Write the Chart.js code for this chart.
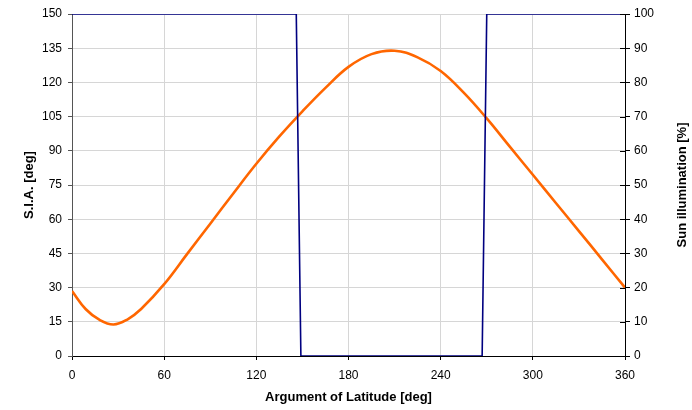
<!DOCTYPE html>
<html>
<head>
<meta charset="utf-8">
<script src="https://cdn.jsdelivr.net/npm/chart.js@4/dist/chart.umd.min.js"></script>
<style>
    html, body { margin: 0; padding: 0; background: #fff; }
    #wrap { width: 692px; height: 410px; }
</style>
</head>
<body>
<div id="wrap"><canvas id="myChart" width="692" height="410"></canvas></div>
<script>
// Sun illumination [%] vs argument of latitude
var sunLat = [0, 146, 149, 267, 270, 360];
var sunVal = [100, 100, 0, 0, 100, 100];

// Sun incidence angle [deg] vs argument of latitude
var siaLat = [0, 9, 18, 27, 36, 45, 60, 75, 90, 105, 120, 135, 150, 165, 180, 195, 210, 225, 240, 255, 270, 285, 300, 315, 330, 345, 360];
var siaVal = [28.5, 20.5, 15.8, 13.8, 16, 20.6, 31.5, 44.8, 58, 71.3, 84.3, 96.3, 107.3, 117.6, 126.8, 132.4, 133.9, 131, 125, 115.5, 104.2, 91.8, 79.5, 67.1, 54.8, 42.4, 30];

// Axis ticks
var xTicks = [0, 60, 120, 180, 240, 300, 360];
var leftMax = 150, leftStep = 15;
var rightMax = 100, rightStep = 10;
var rightTitle = 'Sun illumination [%]';

function points(xs, ys) {
    var out = [];
    for (var i = 0; i < xs.length; i++) {
        out.push({ x: xs[i], y: ys[i] });
    }
    return out;
}

var fontFamily = '"Liberation Sans", Arial, sans-serif';
var tickFont = { family: fontFamily, size: 12 };
var titleFont = { family: fontFamily, size: 13, weight: 'bold' };
var gridColor = '#d6d6d6';

// right axis: title reads bottom-to-top, ticks cross the axis line
var rightAxisExtras = {
    id: 'rightAxisExtras',
    afterDraw: function (chart) {
        var c = chart.ctx,
            s = chart.scales.y1,
            area = chart.chartArea;

        c.save();
        c.strokeStyle = '#000';
        c.lineWidth = 1;
        s.ticks.forEach(function (t) {
            var y = Math.round(s.getPixelForValue(t.value)) + 0.5;
            c.beginPath();
            c.moveTo(area.right - 5, y);
            c.lineTo(area.right, y);
            c.stroke();
        });

        c.translate(682, (area.top + area.bottom) / 2);
        c.rotate(-Math.PI / 2);
        c.font = 'bold 13px ' + fontFamily;
        c.fillStyle = '#000';
        c.textAlign = 'center';
        c.textBaseline = 'middle';
        c.fillText(rightTitle, 0, 0);
        c.restore();
    }
};

var ctx = document.getElementById('myChart').getContext('2d');
var chart = new Chart(ctx, {
    type: 'scatter',
    data: {
        datasets: [
            {
                label: 'Sun illumination',
                data: points(sunLat, sunVal),
                yAxisID: 'y1',
                showLine: true,
                borderColor: '#000080',
                borderWidth: 1.6,
                pointRadius: 0,
                tension: 0
            },
            {
                label: 'S.I.A.',
                data: points(siaLat, siaVal),
                yAxisID: 'y',
                showLine: true,
                borderColor: '#FF6600',
                borderWidth: 2.6,
                pointRadius: 0,
                tension: 0.4
            }
        ]
    },
    options: {
        responsive: false,
        animation: false,
        layout: { padding: { top: 14, right: 0, left: 0, bottom: 0 } },
        plugins: {
            legend: { display: false },
            tooltip: { enabled: false }
        },
        scales: {
            x: {
                type: 'linear',
                min: 0,
                max: 360,
                afterBuildTicks: function (scale) {
                    scale.ticks = xTicks.map(function (v) { return { value: v }; });
                },
                afterFit: function (scale) { scale.height = 54; },
                ticks: { color: '#000', font: tickFont, padding: 8, maxRotation: 0 },
                grid: { color: gridColor, tickColor: '#000', tickLength: 4 },
                border: { color: '#000', width: 1 },
                title: {
                    display: true,
                    text: 'Argument of Latitude [deg]',
                    color: '#000',
                    font: titleFont,
                    padding: { top: 0, bottom: 5 }
                }
            },
            y: {
                position: 'left',
                min: 0,
                max: leftMax,
                afterFit: function (scale) { scale.width = 72; },
                ticks: { stepSize: leftStep, color: '#000', font: tickFont, padding: 6 },
                grid: { color: gridColor, tickColor: '#555', tickLength: 4 },
                border: { color: '#555', width: 1 },
                title: {
                    display: true,
                    text: 'S.I.A. [deg]',
                    color: '#000',
                    font: titleFont,
                    padding: { top: 22, bottom: 0 }
                }
            },
            y1: {
                position: 'right',
                min: 0,
                max: rightMax,
                afterFit: function (scale) { scale.width = 67; },
                ticks: { stepSize: rightStep, color: '#000', font: tickFont, padding: 4 },
                grid: { drawOnChartArea: false, tickColor: '#000', tickLength: 5 },
                border: { color: '#000', width: 1 }
            }
        }
    },
    plugins: [rightAxisExtras]
});
</script>
</body>
</html>
